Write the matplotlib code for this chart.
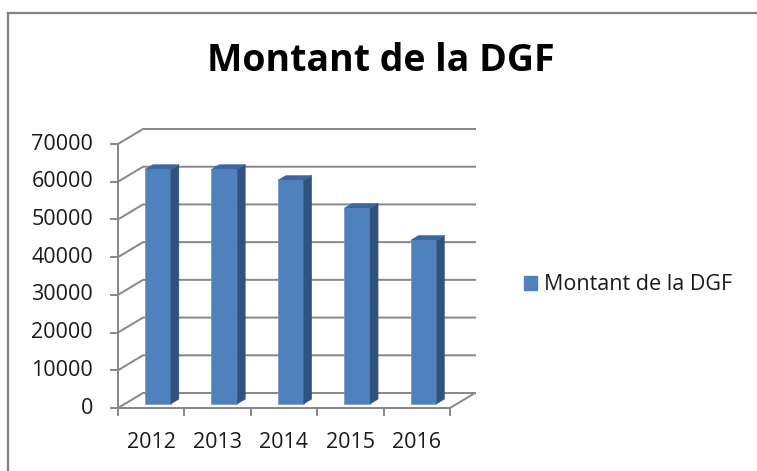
import matplotlib
matplotlib.use("Agg")
import matplotlib.pyplot as plt
from matplotlib.patches import Polygon, Patch
from matplotlib.lines import Line2D

plt.rcParams['font.family'] = ['Open Sans', 'DejaVu Sans']

years = ["2012", "2013", "2014", "2015", "2016"]
dgf = [62200, 62200, 59300, 51900, 43400]
y_ticks = [0, 10000, 20000, 30000, 40000, 50000, 60000, 70000]
title = "Montant de la DGF"
series_name = "Montant de la DGF"

W, H = 757, 471
fig = plt.figure(figsize=(W / 100, H / 100), dpi=100)

# front plane of the 3d box, in pixels
x0, x1 = 118, 450
y0, y1 = 408, 144
ax = fig.add_axes([x0 / W, 1 - y0 / H, (x1 - x0) / W, (y0 - y1) / H])
ax.set_xlim(-0.5, len(years) - 0.5)
ax.set_ylim(0, 70000)
ax.axis("off")

px_x = (len(years)) / (x1 - x0)      # data units per pixel, x
px_y = 70000 / (y0 - y1)             # data units per pixel, y
DX, DY = 25 * px_x, 15 * px_y        # depth of the box
grid_c = "#878787"
lw = 1.4
fs = 15.5

xl, xr = -0.5, len(years) - 0.5
for v in y_ticks:
    ax.plot([xl, xl + DX, xr + DX], [v, v + DY, v + DY], color=grid_c, lw=lw,
            clip_on=False, zorder=1)
    ax.plot([xl - 7 * px_x, xl], [v, v], color=grid_c, lw=lw, clip_on=False)
    ax.text(xl - 25 * px_x, v, f"{v}", ha="right", va="center", fontsize=fs,
            color="#1a1a1a")

ax.plot([xl, xl], [0, 70000], color=grid_c, lw=lw, clip_on=False)
ax.plot([xl, xr, xr + DX], [0, 0, DY], color=grid_c, lw=lw, clip_on=False, zorder=1)
for i in range(len(years) + 1):
    ax.plot([xl + i, xl + i], [0, -7 * px_y], color=grid_c, lw=lw, clip_on=False)
for i, yr in enumerate(years):
    ax.text(i, -34 * px_y, yr, ha="center", va="center", fontsize=fs, color="#1a1a1a")

# bars: front face, side and top
d0, d1 = 0.27, 0.59
bw = 0.39
front_c, side_c, top_c = "#4f81bd", "#31527f", "#3b66a1"
xs = [i + DX * d0 for i in range(len(years))]
ax.bar(xs, dgf, width=bw, bottom=DY * d0, color=front_c, edgecolor="#6f97cc",
       linewidth=0.5, zorder=3, clip_on=False)
ddx, ddy = DX * (d1 - d0), DY * (d1 - d0)
for x, v in zip(xs, dgf):
    b = DY * d0
    l, r = x - bw / 2, x + bw / 2
    ax.add_patch(Polygon([(r, b), (r + ddx, b + ddy), (r + ddx, b + ddy + v), (r, b + v)],
                         closed=True, facecolor=side_c, edgecolor=side_c, lw=0.3,
                         zorder=3, clip_on=False))
    ax.add_patch(Polygon([(l, b + v), (r, b + v), (r + ddx, b + v + ddy), (l + ddx, b + v + ddy)],
                         closed=True, facecolor=top_c, edgecolor=top_c, lw=0.3,
                         zorder=3, clip_on=False))

fig.text(381 / W, 1 - 71 / H, title, ha="center", va="baseline", fontsize=27,
         fontweight="bold", color="black")

fig.legend(handles=[Patch(facecolor=front_c, edgecolor=front_c, label=series_name)],
           loc="center left", bbox_to_anchor=(524 / W, 1 - 285 / H), frameon=False,
           fontsize=fs, handlelength=0.6, handleheight=0.6, handletextpad=0.32,
           borderpad=0, borderaxespad=0, labelcolor="#1a1a1a")

# chart border (only top and left visible in the crop)
fig.add_artist(Line2D([8 / W, 1], [1 - 13 / H, 1 - 13 / H], color="#808080", lw=1.6))
fig.add_artist(Line2D([8 / W, 8 / W], [0, 1 - 13 / H], color="#808080", lw=1.6))

fig.savefig("out.png", dpi=100, facecolor="white")
